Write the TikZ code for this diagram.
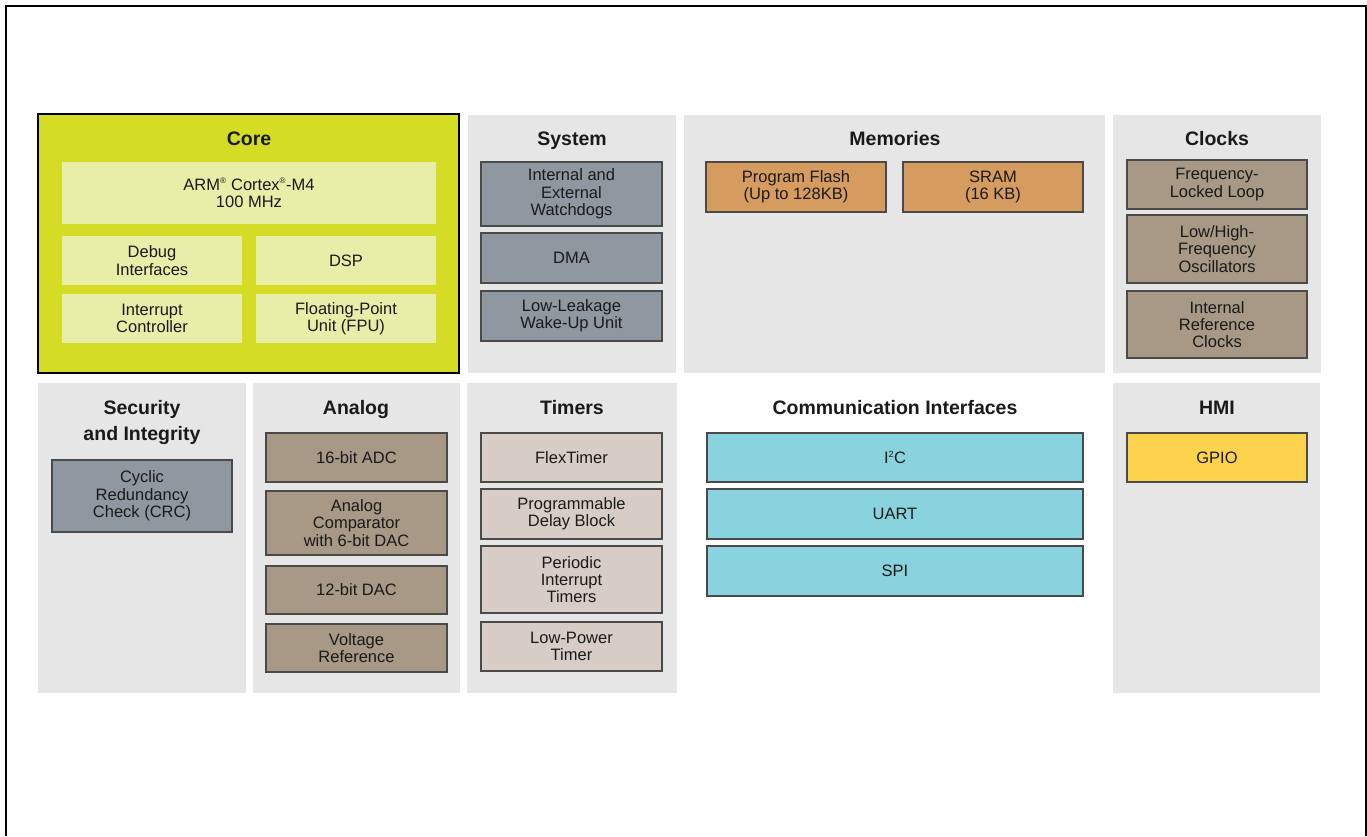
\documentclass[tikz,border=0pt]{standalone}
\usepackage{fontspec}
\setmainfont{Liberation Sans}
\definecolor{panelgray}{HTML}{E6E6E6}
\definecolor{coregreen}{HTML}{D4DC26}
\definecolor{corelight}{HTML}{E8EEA8}
\definecolor{sysblue}{HTML}{8F97A1}
\definecolor{memorange}{HTML}{D69B5F}
\definecolor{taupe}{HTML}{A89886}
\definecolor{timerlight}{HTML}{D8CCC6}
\definecolor{commcyan}{HTML}{88D3DD}
\definecolor{gpioyellow}{HTML}{FDD34E}
\definecolor{txt}{HTML}{1A1A1A}
\definecolor{edge}{HTML}{4A4A4A}
\tikzset{
  base/.style={rectangle, inner sep=0pt, align=center, text=txt,
    font=\fontsize{16.5}{17.3}\selectfont},
  panel/.style={base, fill=panelgray, draw=none},
  title/.style={inner sep=0pt, align=center, text=txt, anchor=base,
    font=\fontsize{19.5}{26}\selectfont\bfseries},
  inner/.style={base, fill=corelight, draw=none},
  blk/.style={base, draw=edge, line width=1.3pt},
  sysbox/.style={blk, fill=sysblue},
  membox/.style={blk, fill=memorange},
  taupebox/.style={blk, fill=taupe},
  timbox/.style={blk, fill=timerlight},
  commbox/.style={blk, fill=commcyan},
  gpiobox/.style={blk, fill=gpioyellow},
  corebox/.style={base, fill=coregreen, draw=black, line width=2pt},
  frameline/.style={line width=2pt, draw=black}
}
\newcommand\bx[7]{\node[#2, minimum width={(#5-#3)*1pt}, minimum height={(#6-#4)*1pt}] (#1) at ({(#3+#5)/2},{(#4+#6)/2}) {#7};}
\begin{document}
\begin{tikzpicture}[x=1pt,y=-1pt]
\useasboundingbox (0,0) rectangle (1367,836);
% frame
\coordinate (fbl) at (6,836);
\coordinate (ftl) at (6,6);
\coordinate (ftr) at (1366,6);
\coordinate (fbr) at (1366,836);
\draw[frameline] (fbl) -- (ftl) -- (ftr) -- (fbr);
% panels
\bx{psys}{panel}{468}{115}{676}{373}{}
\bx{pmem}{panel}{684}{115}{1105}{373}{}
\bx{pclk}{panel}{1113}{115}{1321}{373}{}
\bx{psec}{panel}{38}{383}{246}{693}{}
\bx{pana}{panel}{253}{383}{460}{693}{}
\bx{ptim}{panel}{467}{383}{677}{693}{}
\bx{phmi}{panel}{1113}{383}{1320}{693}{}
% core
\bx{core}{corebox}{38}{114}{459}{373}{}
\node[title] (tcore) at (249,145) {Core};
\bx{arm}{inner}{62}{162}{436}{224}{ARM\textsuperscript{\fontsize{8}{8}\selectfont ®} Cortex\textsuperscript{\fontsize{8}{8}\selectfont ®}-M4\\100 MHz}
\bx{dbg}{inner}{62}{236}{242}{285}{Debug\\Interfaces}
\bx{dsp}{inner}{256}{236}{436}{285}{DSP}
\bx{intc}{inner}{62}{294}{242}{343}{Interrupt\\Controller}
\bx{fpu}{inner}{256}{294}{436}{343}{Floating-Point\\Unit (FPU)}
% system
\node[title] (tsys) at (572,145) {System};
\bx{wdog}{sysbox}{481}{162}{662}{226}{Internal and\\External\\Watchdogs}
\bx{dma}{sysbox}{481}{233}{662}{283}{DMA}
\bx{llwu}{sysbox}{481}{291}{662}{341}{Low-Leakage\\Wake-Up Unit}
% memories
\node[title] (tmem) at (895,145) {Memories};
\bx{flash}{membox}{706}{162}{886}{212}{Program Flash\\(Up to 128KB)}
\bx{sram}{membox}{903}{162}{1083}{212}{SRAM\\(16 KB)}
% clocks
\node[title] (tclk) at (1217,145) {Clocks};
\bx{fll}{taupebox}{1127}{160}{1307}{209}{Frequency-\\Locked Loop}
\bx{osc}{taupebox}{1127}{215}{1307}{283}{Low/High-\\Frequency\\Oscillators}
\bx{irc}{taupebox}{1127}{291}{1307}{358}{Internal\\Reference\\Clocks}
% security
\node[title, anchor=center] (tsec) at (142,422) {Security\\and Integrity};
\bx{crc}{sysbox}{52}{460}{232}{532}{Cyclic\\Redundancy\\Check (CRC)}
% analog
\node[title] (tana) at (356,414) {Analog};
\bx{adc}{taupebox}{266}{433}{447}{482}{16-bit ADC}
\bx{cmp}{taupebox}{266}{491}{447}{555}{Analog\\Comparator\\with 6-bit DAC}
\bx{dac}{taupebox}{266}{566}{447}{614}{12-bit DAC}
\bx{vref}{taupebox}{266}{624}{447}{672}{Voltage\\Reference}
% timers
\node[title] (ttim) at (572,414) {Timers};
\bx{ftm}{timbox}{481}{433}{662}{482}{FlexTimer}
\bx{pdb}{timbox}{481}{489}{662}{539}{Programmable\\Delay Block}
\bx{pit}{timbox}{481}{546}{662}{613}{Periodic\\Interrupt\\Timers}
\bx{lpt}{timbox}{481}{622}{662}{671}{Low-Power\\Timer}
% communication
\node[title] (tcomm) at (895,414) {Communication Interfaces};
\bx{i2c}{commbox}{707}{433}{1083}{482}{I\textsuperscript{\fontsize{9}{9}\selectfont 2}C}
\bx{uart}{commbox}{707}{489}{1083}{539}{UART}
\bx{spi}{commbox}{707}{546}{1083}{596}{SPI}
% HMI
\node[title] (thmi) at (1217,414) {HMI};
\bx{gpio}{gpiobox}{1127}{433}{1307}{482}{GPIO}
\end{tikzpicture}
\end{document}
